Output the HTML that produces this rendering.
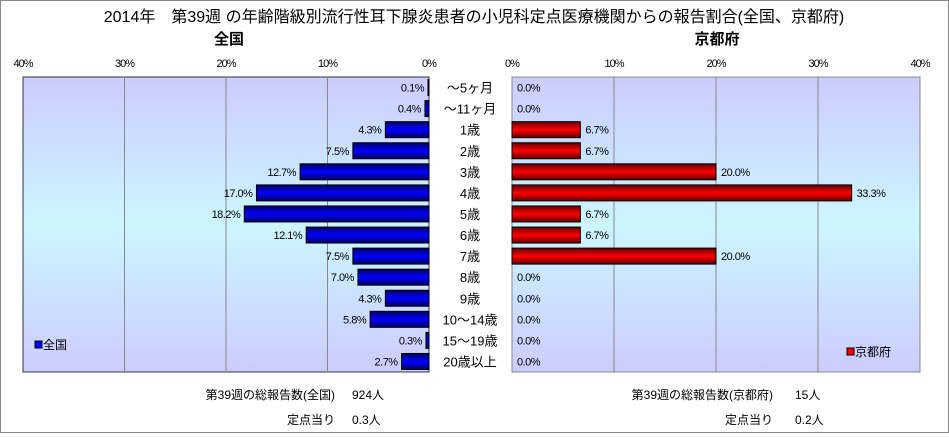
<!DOCTYPE html>
<html><head><meta charset="utf-8"><style>
body{margin:0;width:949px;height:433px;overflow:hidden;background:#fff;font-family:"Liberation Sans","Noto Sans CJK JP",sans-serif}
svg text{font-family:"Liberation Sans","Noto Sans CJK JP",sans-serif}
</style></head><body>
<svg width="949" height="433">
<defs>
<linearGradient id="bg" x1="0" y1="0" x2="0" y2="1">
<stop offset="0" stop-color="#ccccff"/><stop offset="0.5" stop-color="#ccf6ff"/><stop offset="1" stop-color="#ccccff"/></linearGradient>
<linearGradient id="bl" x1="0" y1="0" x2="0" y2="1">
<stop offset="0" stop-color="#000060"/><stop offset="0.5" stop-color="#0000ff"/><stop offset="1" stop-color="#000060"/></linearGradient>
<linearGradient id="rd" x1="0" y1="0" x2="0" y2="1">
<stop offset="0" stop-color="#600000"/><stop offset="0.5" stop-color="#ff0000"/><stop offset="1" stop-color="#600000"/></linearGradient>
</defs>
<rect x="0.5" y="0.5" width="948" height="432" fill="#fff" stroke="#888"/>
<text x="474" y="22" font-size="16" text-anchor="middle">2014年　第39週 の年齢階級別流行性耳下腺炎患者の小児科定点医療機関からの報告割合(全国、京都府)</text>
<text x="229" y="44" font-size="15" font-weight="bold" text-anchor="middle">全国</text>
<text x="717" y="44" font-size="15" font-weight="bold" text-anchor="middle">京都府</text>
<rect x="23" y="77" width="406" height="295" fill="url(#bg)" stroke="#333"/>
<rect x="512" y="77" width="408" height="295" fill="url(#bg)" stroke="#888"/>
<g id="g"></g>
<g font-size="12">
<text x="335" y="399" text-anchor="end">第39週の総報告数(全国)</text><text x="352" y="399">924人</text>
<text x="335" y="424" text-anchor="end">定点当り</text><text x="352" y="424">0.3人</text>
<text x="773" y="399" text-anchor="end">第39週の総報告数(京都府)</text><text x="795" y="399">15人</text>
<text x="773" y="424" text-anchor="end">定点当り</text><text x="795" y="424">0.2人</text>
</g>
<g><rect x="35" y="341" width="7" height="7" fill="#0000ff" stroke="#000"/><text x="43" y="349" font-size="12">全国</text></g>
<g><rect x="847" y="348" width="7" height="7" fill="#ff0000" stroke="#000"/><text x="855" y="356" font-size="12">京都府</text></g>
</svg>
<script>
const categories=["～5ヶ月","～11ヶ月","1歳","2歳","3歳","4歳","5歳","6歳","7歳","8歳","9歳","10～14歳","15～19歳","20歳以上"];
const national=[0.1,0.4,4.3,7.5,12.7,17.0,18.2,12.1,7.5,7.0,4.3,5.8,0.3,2.7];
const kyoto=[0,0,6.7,6.7,20.0,33.3,6.7,6.7,20.0,0,0,0,0,0];
const ticks=[0,10,20,30,40];
const NS="http://www.w3.org/2000/svg",g=document.getElementById('g');
const top0=77,H=295,rowH=H/categories.length,barH=16;
const xL=v=>429-v/40*406, xR=v=>512+v/40*408;
function mk(t,a,txt){const e=document.createElementNS(NS,t);for(const k in a)e.setAttribute(k,a[k]);if(txt!=null)e.textContent=txt;g.appendChild(e);return e;}
ticks.forEach(t=>{
 if(t>0&&t<40){let e=mk('line',{x1:xL(t),x2:xL(t),y1:top0,y2:top0+H,stroke:'#888'});
 
 e=mk('line',{x1:xR(t),x2:xR(t),y1:top0,y2:top0+H,stroke:'#888'});
 }
 let e=mk('text',{x:xL(t),y:67,'font-size':11,'text-anchor':'middle','letter-spacing':'-1'},t+'%');
 
 e=mk('text',{x:xR(t),y:67,'font-size':11,'text-anchor':'middle','letter-spacing':'-1'},t+'%');
 
});
categories.forEach((c,i)=>{
 const cy=top0+rowH*(i+0.5);
 let e=mk('text',{x:470,y:cy+5,'font-size':13,'text-anchor':'middle'},c);
 
 const v=national[i];
 e=mk('rect',{x:xL(v),y:cy-barH/2,width:429-xL(v),height:barH,fill:'url(#bl)',stroke:'#000'});
 
 e=mk('text',{x:xL(v)-4,y:cy+4,'font-size':11,'text-anchor':'end','letter-spacing':'-0.5'},v.toFixed(1)+'%');
 
 const k=kyoto[i];
 if(k>0){e=mk('rect',{x:512,y:cy-barH/2,width:xR(k)-512,height:barH,fill:'url(#rd)',stroke:'#000'});
 }
 e=mk('text',{x:xR(k)+5,y:cy+4,'font-size':11,'letter-spacing':'-0.5'},k.toFixed(1)+'%');
 
});
</script>
</body></html>
